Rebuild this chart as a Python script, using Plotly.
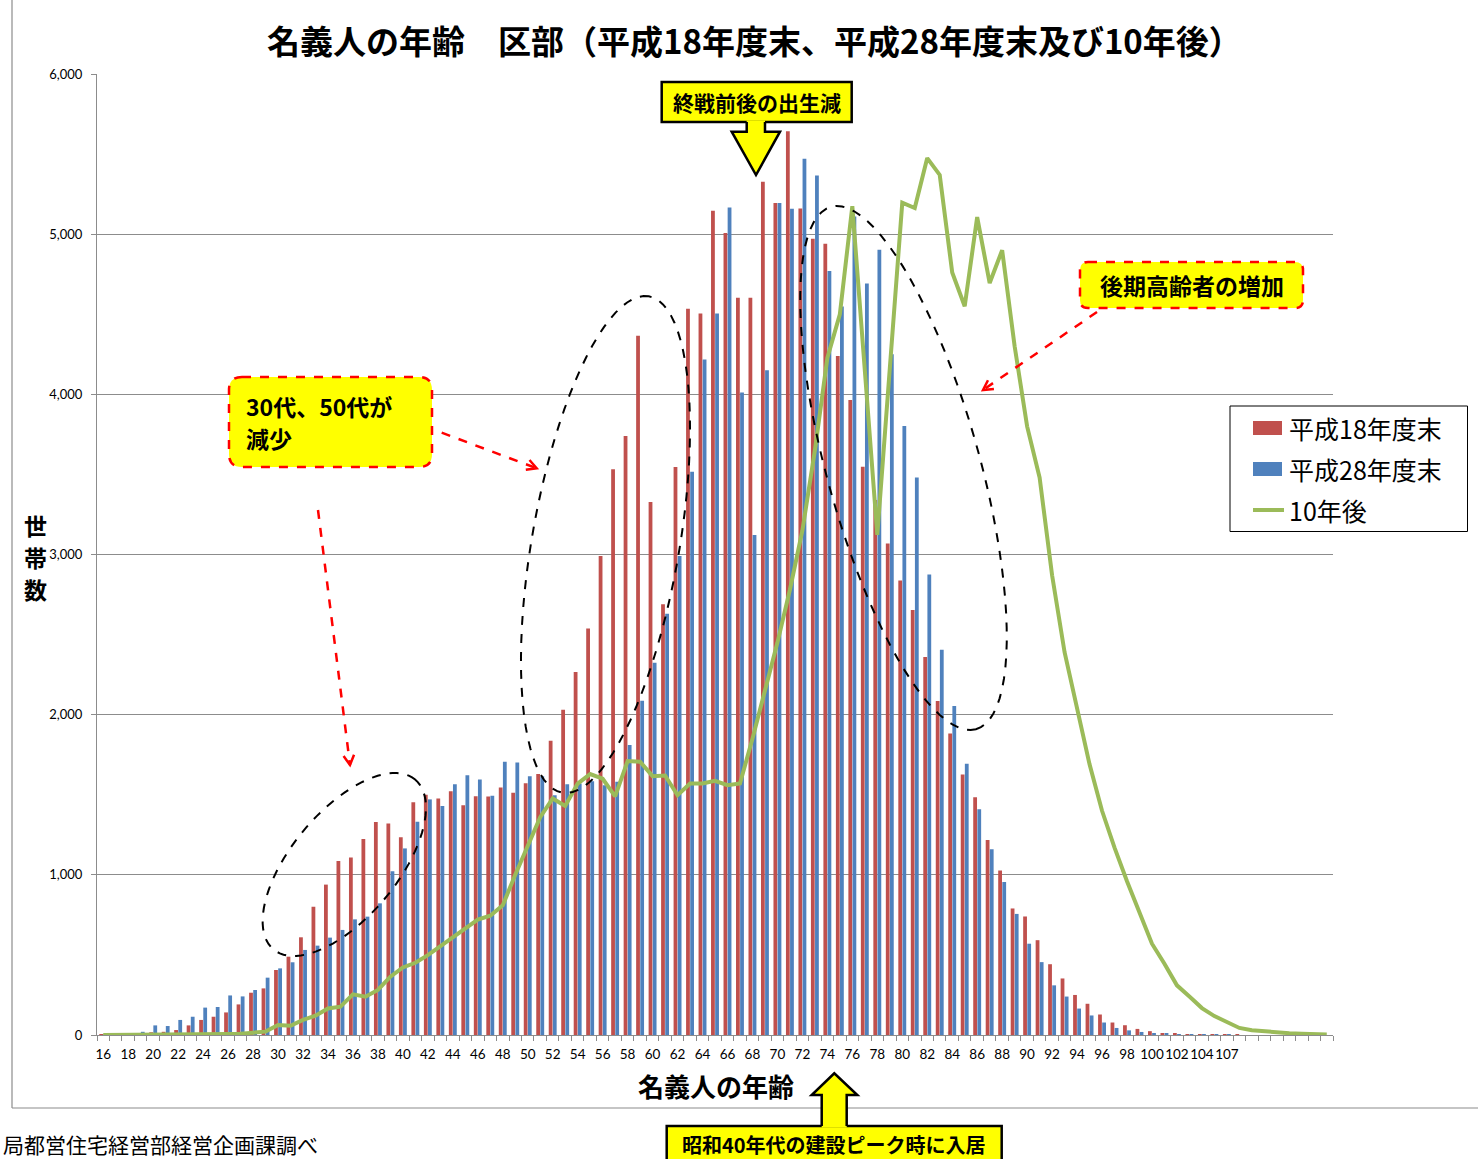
import math
import plotly.graph_objects as go

# ---- data -------------------------------------------------------------
# age categories on the x axis (blank slots at the end carry only the 10-year projection)
age_labels = [str(a) for a in range(16, 105)] + ["105", "107"] + [""] * 8

# households by head-of-household age, end of FY H18
h18 = [3, 4, 6, 10, 17, 20, 31, 60, 94, 114,
       141, 191, 264, 291, 406, 489, 610, 801, 939, 1086,
       1109, 1224, 1330, 1320, 1234, 1453, 1500, 1477, 1522, 1435,
       1491, 1489, 1545, 1512, 1572, 1629, 1837, 2030, 2267, 2538,
       2990, 3533, 3740, 4365, 3328, 2690, 3546, 4534, 4505, 5146,
       5007, 4603, 4603, 5328, 5194, 5643, 5160, 4971, 4940, 4239,
       3964, 3548, 3340, 3069, 2837, 2653, 2360, 2085, 1883, 1627,
       1484, 1217, 1027, 790, 740, 592, 442, 353, 250, 195,
       128, 78, 61, 38, 24, 12, 12, 6, 6, 5,
       5, 4, 0, 0, 0, 0, 0, 0, 0]

# households by head-of-household age, end of FY H28
h28 = [1, 5, 12, 20, 60, 56, 94, 114, 171, 175,
       247, 241, 281, 358, 416, 454, 531, 558, 608, 656,
       722, 739, 822, 1022, 1165, 1332, 1471, 1429, 1566, 1622,
       1595, 1493, 1706, 1702, 1616, 1616, 1497, 1566, 1570, 1585,
       1560, 1581, 1810, 2087, 2324, 2630, 2990, 3517, 4218, 4505,
       5167, 4012, 3122, 4151, 5194, 5158, 5471, 5366, 4770, 4548,
       5110, 4692, 4902, 4251, 3803, 3481, 2875, 2406, 2054, 1694,
       1409, 1159, 956, 756, 570, 455, 310, 240, 165, 122,
       78, 44, 29, 19, 12, 8, 6, 4, 3, 2,
       2, 0, 0, 0, 0, 0, 0, 0, 0]

# projection ten years ahead
after10 = [0, 0, 1, 1, 2, 2, 3, 3, 4, 5,
           6, 8, 12, 21, 62, 58, 94, 121, 166, 177,
           254, 239, 281, 364, 422, 451, 499, 555, 610, 660,
           720, 745, 810, 1000, 1180, 1360, 1477, 1430, 1570, 1629,
           1600, 1490, 1710, 1706, 1616, 1620, 1497, 1570, 1570, 1587,
           1560, 1570, 1850, 2150, 2450, 2780, 3150, 3650, 4227, 4500,
           5175, 4150, 3122, 4160, 5196, 5163, 5475, 5370, 4761, 4550,
           5107, 4695, 4900, 4300, 3800, 3480, 2870, 2390, 2040, 1690,
           1400, 1170, 960, 760, 570, 445, 310, 240, 168, 118,
           78, 44, 30, 22, 14, 11, 8, 6, 3]

y_ticks = [0, 1000, 2000, 3000, 4000, 5000, 6000]
y_tick_text = ["0", "1,000", "2,000", "3,000", "4,000", "5,000", "6,000"]

series_names = ["平成18年度末", "平成28年度末", "10年後"]
series_colors = ["#C0504D", "#4F81BD", "#9BBB59"]

# ---- layout geometry (pixels) -------------------------------------------
W, H = 1478, 1159
L, R, T, B = 97, 1333, 74, 1035
JP = "Noto Sans CJK JP"


def px(x):
    return (x - L) / (R - L)


def py(y):
    return (B - y) / (B - T)


def poly_path(points, close=True):
    s = "M " + " L ".join(f"{px(x):.5f},{py(y):.5f}" for x, y in points)
    return s + (" Z" if close else "")


def ellipse_path(cx, cy, a, b, theta_deg, n=90):
    th = math.radians(theta_deg)
    pts = []
    for k in range(n + 1):
        t = 2 * math.pi * k / n
        dx = a * math.cos(th) * math.cos(t) - b * math.sin(th) * math.sin(t)
        dy = a * math.sin(th) * math.cos(t) + b * math.cos(th) * math.sin(t)
        pts.append((cx + dx, cy - dy))
    return poly_path(pts)


def round_rect_path(x0, y0, x1, y1, r):
    def p(x, y):
        return f"{px(x):.5f},{py(y):.5f}"
    return (f"M {p(x0 + r, y0)} L {p(x1 - r, y0)} Q {p(x1, y0)} {p(x1, y0 + r)} "
            f"L {p(x1, y1 - r)} Q {p(x1, y1)} {p(x1 - r, y1)} "
            f"L {p(x0 + r, y1)} Q {p(x0, y1)} {p(x0, y1 - r)} "
            f"L {p(x0, y0 + r)} Q {p(x0, y0)} {p(x0 + r, y0)} Z")


x_idx = list(range(len(age_labels)))

fig = go.Figure()
fig.add_trace(go.Bar(x=x_idx, y=h18, name=series_names[0], showlegend=False,
                     marker=dict(color=series_colors[0], line=dict(width=0))))
fig.add_trace(go.Bar(x=x_idx, y=h28, name=series_names[1], showlegend=False,
                     marker=dict(color=series_colors[1], line=dict(width=0))))
fig.add_trace(go.Scatter(x=x_idx, y=after10, name=series_names[2], mode="lines",
                         showlegend=False,
                         line=dict(color=series_colors[2], width=4)))

shapes = []
annotations = []

# chart-area frame (left and bottom edges)
shapes.append(dict(type="line", xref="paper", yref="paper",
                   x0=px(12), y0=py(-5), x1=px(12), y1=py(1108),
                   line=dict(color="#8C8C8C", width=1.2)))
shapes.append(dict(type="line", xref="paper", yref="paper",
                   x0=px(12), y0=py(1108), x1=px(1490), y1=py(1108),
                   line=dict(color="#8C8C8C", width=1.2)))

# dashed ellipses around the highlighted age groups
for cx, cy, a, b, th in [(344.3, 864.5, 110.6, 53.0, 50.2),
                         (605.5, 544.5, 251.9, 73.7, 80.1),
                         (903.5, 468.0, 271.1, 76.4, -74.5)]:
    shapes.append(dict(type="path", xref="paper", yref="paper",
                       path=ellipse_path(cx, cy, a, b, th),
                       line=dict(color="black", width=2, dash="dash")))


# red dashed arrows
def dashed_arrow(x0, y0, x1, y1, head=11):
    shapes.append(dict(type="line", xref="paper", yref="paper",
                       x0=px(x0), y0=py(y0), x1=px(x1), y1=py(y1),
                       line=dict(color="#FF0000", width=2.5, dash="dash")))
    ang = math.atan2(y1 - y0, x1 - x0)
    w1 = (x1 - head * math.cos(ang - 0.5), y1 - head * math.sin(ang - 0.5))
    w2 = (x1 - head * math.cos(ang + 0.5), y1 - head * math.sin(ang + 0.5))
    shapes.append(dict(type="path", xref="paper", yref="paper",
                       path=poly_path([w1, (x1, y1), w2], close=False),
                       line=dict(color="#FF0000", width=2.5)))


dashed_arrow(441.7, 432.7, 536.7, 468.3)
dashed_arrow(318, 510, 350, 765)
dashed_arrow(1097, 312, 983, 390)

# yellow callout boxes with red dashed rounded borders
shapes.append(dict(type="path", xref="paper", yref="paper",
                   path=round_rect_path(229, 377, 432, 467, 13),
                   fillcolor="#FFFF00",
                   line=dict(color="#FF0000", width=2.5, dash="dash")))
shapes.append(dict(type="path", xref="paper", yref="paper",
                   path=round_rect_path(1080, 262, 1303, 308, 8),
                   fillcolor="#FFFF00",
                   line=dict(color="#FF0000", width=2.5, dash="dash")))

# top callout with downward block arrow
shapes.append(dict(type="rect", xref="paper", yref="paper",
                   x0=px(661.7), y0=py(82), x1=px(851.7), y1=py(122),
                   fillcolor="#FFFF00", line=dict(color="black", width=2.5)))
down_arrow = [(746.7, 120.5), (765, 120.5), (765, 131.7), (780, 131.7),
              (756, 175), (731.7, 131.7), (746.7, 131.7)]
shapes.append(dict(type="path", xref="paper", yref="paper",
                   path=poly_path(down_arrow), fillcolor="#FFFF00",
                   line=dict(width=0)))
shapes.append(dict(type="path", xref="paper", yref="paper",
                   path=poly_path([(765, 122), (765, 131.7), (780, 131.7), (756, 175),
                                   (731.7, 131.7), (746.7, 131.7), (746.7, 122)],
                                  close=False),
                   line=dict(color="black", width=2.5)))

# bottom callout with upward block arrow
shapes.append(dict(type="rect", xref="paper", yref="paper",
                   x0=px(666.7), y0=py(1126), x1=px(1001.7), y1=py(1175),
                   fillcolor="#FFFF00", line=dict(color="black", width=2.5)))
up_arrow = [(821.7, 1127.5), (821.7, 1095), (811.7, 1095), (834.3, 1073.3),
            (857.3, 1095), (846.7, 1095), (846.7, 1127.5)]
shapes.append(dict(type="path", xref="paper", yref="paper",
                   path=poly_path(up_arrow), fillcolor="#FFFF00",
                   line=dict(width=0)))
shapes.append(dict(type="path", xref="paper", yref="paper",
                   path=poly_path([(821.7, 1126)] + up_arrow[1:6] + [(846.7, 1126)], close=False),
                   line=dict(color="black", width=2.5)))

# legend box drawn with shapes and text
shapes.append(dict(type="rect", xref="paper", yref="paper",
                   x0=px(1230), y0=py(406), x1=px(1467.5), y1=py(531.5),
                   fillcolor="white", line=dict(color="black", width=1)))
for i, (name, color) in enumerate(zip(series_names, series_colors)):
    yc = 428 + 41 * i
    if i < 2:
        shapes.append(dict(type="rect", xref="paper", yref="paper",
                           x0=px(1253), y0=py(yc - 7), x1=px(1282), y1=py(yc + 7),
                           fillcolor=color, line=dict(width=0)))
    else:
        shapes.append(dict(type="line", xref="paper", yref="paper",
                           x0=px(1253), y0=py(yc), x1=px(1284), y1=py(yc),
                           line=dict(color=color, width=4)))


def text(x, y, s, size, bold=False, xanchor="center", align="center", color="black"):
    annotations.append(dict(xref="paper", yref="paper", x=px(x), y=py(y),
                            text=f"<b>{s}</b>" if bold else s, showarrow=False,
                            xanchor=xanchor, yanchor="middle", align=align,
                            font=dict(family=JP, size=size, color=color)))


for i, name in enumerate(series_names):
    text(1287, 428 + 41 * i, name, 25, xanchor="left")

text(754, 40, "名義人の年齢　区部（平成18年度末、平成28年度末及び10年後）", 33, bold=True)
text(756.7, 102, "終戦前後の出生減", 21, bold=True)
text(1191.5, 285, "後期高齢者の増加", 23, bold=True)
text(244, 406, "30代、50代が", 23, bold=True, xanchor="left")
text(244, 438, "減少", 23, bold=True, xanchor="left")
text(834, 1144, "昭和40年代の建設ピーク時に入居", 20, bold=True)
text(716, 1085, "名義人の年齢", 26, bold=True)
for i, ch in enumerate("世帯数"):
    text(35, 525 + 32 * i, ch, 23, bold=True)
text(1, 1144, "局都営住宅経営部経営企画課調べ", 21, xanchor="left")

fig.update_layout(
    width=W, height=H,
    margin=dict(l=L, r=W - R, t=T, b=H - B, pad=0),
    paper_bgcolor="white", plot_bgcolor="white",
    barmode="group", bargap=0.34, bargroupgap=0.08,
    font=dict(family=JP, color="black"),
    showlegend=False,
    shapes=shapes,
    annotations=annotations,
    xaxis=dict(range=[-0.5, len(age_labels) - 0.5],
               tickmode="array",
               tickvals=x_idx[::2][:46],
               ticktext=age_labels[::2][:46],
               tickangle=0,
               ticks="outside", ticklen=7, tickcolor="rgba(0,0,0,0)",
               tickfont=dict(family="Lato", size=13.5, color="black"),
               minor=dict(tickmode="linear", tick0=-0.5, dtick=1,
                          ticks="outside", ticklen=5, tickcolor="#8C8C8C"),
               showline=True, linecolor="#8C8C8C", linewidth=1,
               showgrid=False, zeroline=False, fixedrange=True),
    yaxis=dict(range=[0, 6000], tickmode="array",
               tickvals=y_ticks, ticktext=y_tick_text,
               ticks="outside", ticklen=5, tickcolor="#8C8C8C",
               ticklabelstandoff=6,
               tickfont=dict(family="Lato", size=13, color="black"),
               showline=True, linecolor="#8C8C8C", linewidth=1,
               showgrid=True, gridcolor="#8C8C8C", gridwidth=1,
               zeroline=False, fixedrange=True),
)

fig.write_html("out.html")
